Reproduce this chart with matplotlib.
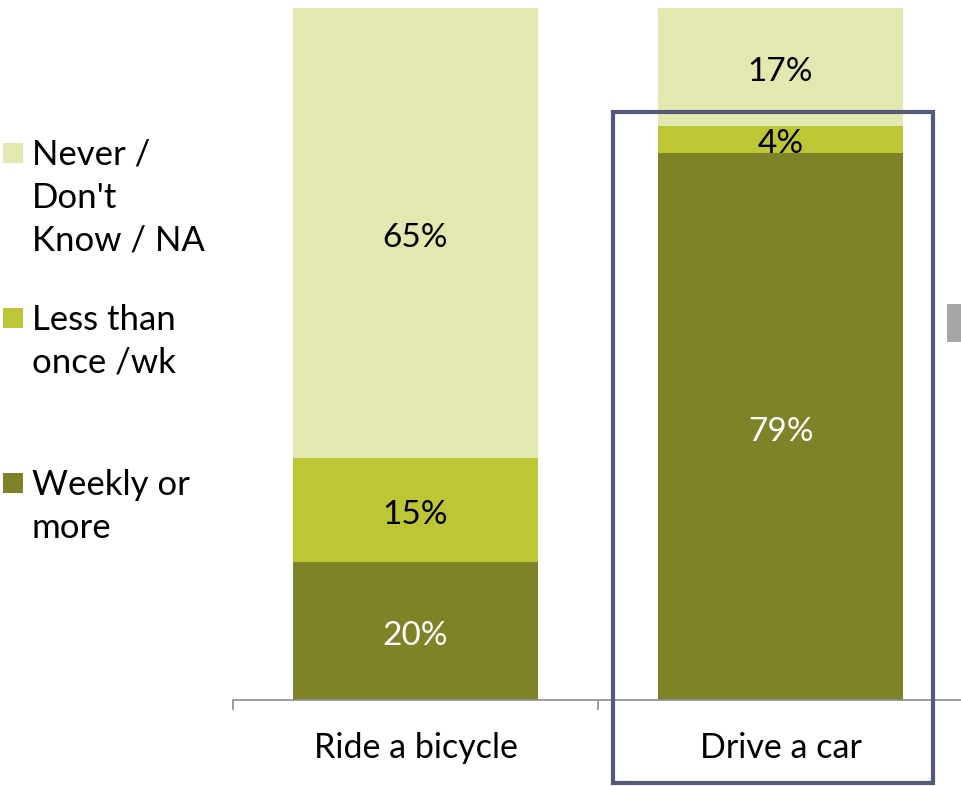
import matplotlib
matplotlib.use("Agg")
import matplotlib.pyplot as plt
from matplotlib.patches import Rectangle
from matplotlib.transforms import offset_copy

categories = ["Ride a bicycle", "Drive a car"]
series_names = ["Weekly or\nmore", "Less than\nonce /wk", "Never /\nDon't\nKnow / NA"]
weekly = [20, 79]
less = [15, 4]
never = [65, 17]
colors = ["#7F8327", "#BDC735", "#E3E8B0"]
label_colors = ["white", "black", "black"]

plt.rcParams['font.family'] = ['Lato', 'DejaVu Sans']
W, H = 961, 786
fig = plt.figure(figsize=(W/100, H/100), dpi=100)
ax = fig.add_axes([233/W, (H-700)/H, 730/W, 692/H])
lab_tr = offset_copy(ax.transData, fig=fig, x=0, y=-5, units='dots')

x = list(range(len(categories)))
bottom = [0]*len(categories)
for vals, c, lc in zip([weekly, less, never], colors, label_colors):
    bars = ax.bar(x, vals, width=0.67, bottom=bottom, color=c, zorder=2)
    for b, v, bt in zip(bars, vals, bottom):
        ax.text(b.get_x()+b.get_width()/2, bt+v/2, f"{v}%", ha='center', va='center',
                color=lc, fontsize=24, zorder=4, transform=lab_tr)
    bottom = [b+v for b, v in zip(bottom, vals)]

ax.set_xlim(-0.5, 1.5)
ax.set_ylim(0, 100)
for s in ['top', 'right', 'left']:
    ax.spines[s].set_visible(False)
ax.spines['bottom'].set_color('#8C8C8C')
ax.spines['bottom'].set_linewidth(1.2)
ax.set_yticks([])
ax.set_xticks([-0.5, 0.5], minor=False)
ax.set_xticklabels([])
ax.tick_params(axis='x', length=7, color='#8C8C8C', width=1.2, direction='out')
for xi, cat in zip(x, categories):
    ax.text(xi, -7, cat, ha='center', va='center', fontsize=24.5,
            transform=ax.transData, clip_on=False)

# highlight box
fig.patches.append(Rectangle((613/W, (H-783)/H), 320/W, 671/H, transform=fig.transFigure,
                             fill=False, edgecolor='#545A77', linewidth=3, zorder=5))
# grey stub at right
fig.patches.append(Rectangle((947/W, (H-342)/H), 14/W, 38/H, transform=fig.transFigure,
                             facecolor='#A6A6A6', edgecolor='none'))

# legend
leg_items = [(colors[2], series_names[2], 143), (colors[1], series_names[1], 308), (colors[0], series_names[0], 473)]
for c, name, ytop in leg_items:
    fig.patches.append(Rectangle((3/W, (H-ytop-20)/H), 20/W, 20/H, transform=fig.transFigure,
                                 facecolor=c, edgecolor='none'))
    for i, line in enumerate(name.split("\n")):
        fig.text(32/W, (H-ytop-22-43*i)/H, line, ha='left', va='baseline', fontsize=25)

fig.savefig("out.png", dpi=100)
